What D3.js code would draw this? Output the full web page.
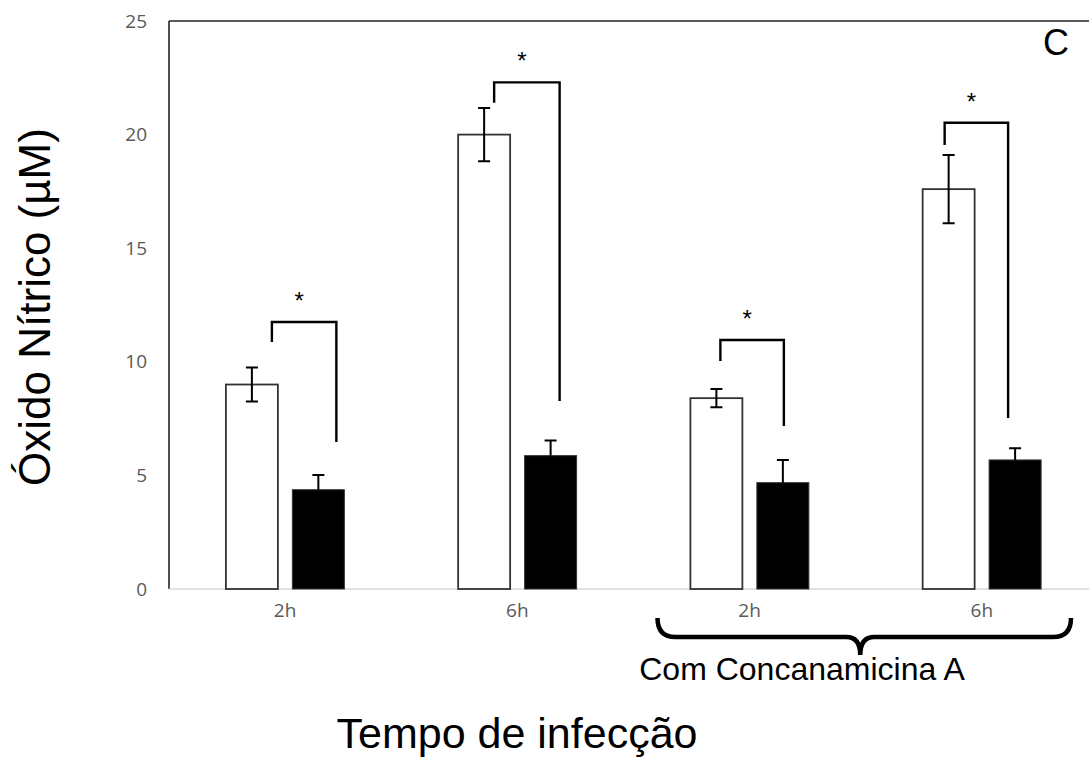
<!DOCTYPE html>
<html>
<head>
<meta charset="utf-8">
<script src="https://cdn.jsdelivr.net/npm/d3@7"></script>
<style>
  body { margin: 0; background: #fff; }
  svg { display: block; }
</style>
</head>
<body>
<svg class="chart" width="1089" height="758"></svg>
<script>
// data
const categories = ['2h', '6h', '2h', '6h'];
const series = ['controle', 'tratado'];
const whiteValues = [9.0, 20.0, 8.4, 17.6];
const whiteErrors = [0.75, 1.17, 0.4, 1.5];
const blackValues = [4.37, 5.87, 4.68, 5.68];
const blackErrors = [0.65, 0.67, 1.0, 0.51];
// significance brackets: top, left leg bottom, right leg bottom (in µM)
const bracketTop = [11.75, 22.3, 10.96, 20.52];
const bracketLeftEnd = [10.87, 21.4, 10.04, 19.54];
const bracketRightEnd = [6.47, 8.27, 7.17, 7.53];
const yTicks = [0, 5, 10, 15, 20, 25];

const svg = d3.select('.chart');
const plotLeft = 169, plotRight = 1098, plotTop = 21, plotBottom = 589;

const x = d3.scaleBand()
    .domain(d3.range(categories.length))
    .range([plotLeft, plotRight])
    .paddingInner(0).paddingOuter(0);

const xSub = d3.scaleBand()
    .domain(series)
    .range([0, x.bandwidth()])
    .paddingInner(0.218)
    .paddingOuter(0.856);

const y = d3.scaleLinear().domain([0, 25]).range([plotBottom, plotTop]);

// y tick labels (no tick marks)
svg.append('g')
    .attr('transform', `translate(${plotLeft},0)`)
    .call(d3.axisLeft(y).tickValues(yTicks).tickSize(0).tickPadding(22))
    .call(g => g.select('.domain').remove())
    .selectAll('text')
        .attr('font-family', '"Open Sans", sans-serif')
        .attr('font-size', 19)
        .attr('fill', '#595959');

// category labels
svg.append('g')
    .attr('transform', `translate(0,${plotBottom})`)
    .call(d3.axisBottom(x).tickSize(0).tickPadding(15).tickFormat(i => categories[i]))
    .call(g => g.select('.domain').remove())
    .selectAll('text')
        .attr('font-family', '"Open Sans", sans-serif')
        .attr('font-size', 19)
        .attr('fill', '#595959');

// frame: left + top dark, baseline light gray
svg.append('line')
    .attr('x1', plotLeft).attr('x2', plotLeft).attr('y1', plotTop).attr('y2', plotBottom)
    .attr('stroke', '#222').attr('stroke-width', 1.6);
svg.append('line')
    .attr('x1', plotLeft).attr('x2', plotRight).attr('y1', plotTop).attr('y2', plotTop)
    .attr('stroke', '#222').attr('stroke-width', 1.6);
svg.append('line')
    .attr('x1', plotLeft).attr('x2', plotRight).attr('y1', plotBottom).attr('y2', plotBottom)
    .attr('stroke', '#d9d9d9').attr('stroke-width', 1.5);

const rows = categories.map((c, i) => ({
    i,
    w: whiteValues[i], we: whiteErrors[i],
    b: blackValues[i], be: blackErrors[i],
    top: bracketTop[i], le: bracketLeftEnd[i], re: bracketRightEnd[i]
}));

const groups = svg.selectAll('.grp')
    .data(rows)
    .enter().append('g')
    .attr('class', 'grp')
    .attr('transform', d => `translate(${x(d.i)},0)`);

// white bars
groups.append('rect')
    .attr('x', xSub('controle'))
    .attr('width', xSub.bandwidth())
    .attr('y', d => y(d.w))
    .attr('height', d => plotBottom - y(d.w))
    .attr('fill', '#fff')
    .attr('stroke', '#333')
    .attr('stroke-width', 1.8);

// black bars
groups.append('rect')
    .attr('x', xSub('tratado'))
    .attr('width', xSub.bandwidth())
    .attr('y', d => y(d.b))
    .attr('height', d => plotBottom - y(d.b))
    .attr('fill', '#000')
    .attr('stroke', '#333')
    .attr('stroke-width', 1);

// error bars
const cap = 6;
const wc = xSub('controle') + xSub.bandwidth() / 2;
const bc = xSub('tratado') + xSub.bandwidth() / 2;
groups.append('path')
    .attr('d', d => {
        const y1 = y(d.w + d.we), y2 = y(d.w - d.we);
        return `M${wc},${y1}V${y2}M${wc - cap},${y1}H${wc + cap}M${wc - cap},${y2}H${wc + cap}`;
    })
    .attr('fill', 'none').attr('stroke', '#000').attr('stroke-width', 2);
groups.append('path')
    .attr('d', d => {
        const y1 = y(d.b + d.be), y2 = y(d.b);
        return `M${bc},${y1}V${y2}M${bc - cap},${y1}H${bc + cap}`;
    })
    .attr('fill', 'none').attr('stroke', '#000').attr('stroke-width', 2);

// significance brackets
const legOffsetL = [20, 10, 4, -4];
const legOffsetR = [18, 9, 1, -7];
groups.append('path')
    .attr('d', d => {
        const lx = wc + legOffsetL[d.i], rx = bc + legOffsetR[d.i];
        return `M${lx},${y(d.le)}V${y(d.top)}H${rx}V${y(d.re)}`;
    })
    .attr('fill', 'none').attr('stroke', '#000').attr('stroke-width', 2.4);
groups.append('text')
    .attr('x', d => (wc + legOffsetL[d.i] + bc + legOffsetR[d.i]) / 2 - 5)
    .attr('y', d => y(d.top) - 13)
    .attr('text-anchor', 'middle')
    .attr('font-family', '"Liberation Sans", Arial, sans-serif')
    .attr('font-size', 24)
    .text('*');

// panel letter
svg.append('text')
    .attr('x', 1056).attr('y', 55)
    .attr('text-anchor', 'middle')
    .attr('font-family', '"Liberation Sans", Arial, sans-serif')
    .attr('font-size', 36)
    .text('C');

// curly brace under the treated groups
const bx1 = x(2) + 24, bx2 = x(3) + x.bandwidth() - 27;
const bm = (bx1 + bx2) / 2 - 4;
const by0 = 618, by1 = 637, by2 = 655;
svg.append('path')
    .attr('d', `M${bx1},${by0}Q${bx1},${by1} ${bx1 + 18},${by1}H${bm - 14}Q${bm},${by1} ${bm},${by2}`
        + `Q${bm},${by1} ${bm + 14},${by1}H${bx2 - 18}Q${bx2},${by1} ${bx2},${by0}`)
    .attr('fill', 'none').attr('stroke', '#000').attr('stroke-width', 4.5);

svg.append('text')
    .attr('x', 802).attr('y', 680)
    .attr('text-anchor', 'middle')
    .attr('font-family', '"Liberation Sans", Arial, sans-serif')
    .attr('font-size', 32)
    .text('Com Concanamicina A');

// axis titles
svg.append('text')
    .attr('x', 517).attr('y', 748)
    .attr('text-anchor', 'middle')
    .attr('font-family', '"Liberation Sans", Arial, sans-serif')
    .attr('font-size', 43)
    .text('Tempo de infecção');

svg.append('text')
    .attr('transform', 'translate(50,307) rotate(-90)')
    .attr('text-anchor', 'middle')
    .attr('font-family', '"Liberation Sans", Arial, sans-serif')
    .attr('font-size', 44)
    .text('Óxido Nítrico (µM)');
</script>
</body>
</html>
